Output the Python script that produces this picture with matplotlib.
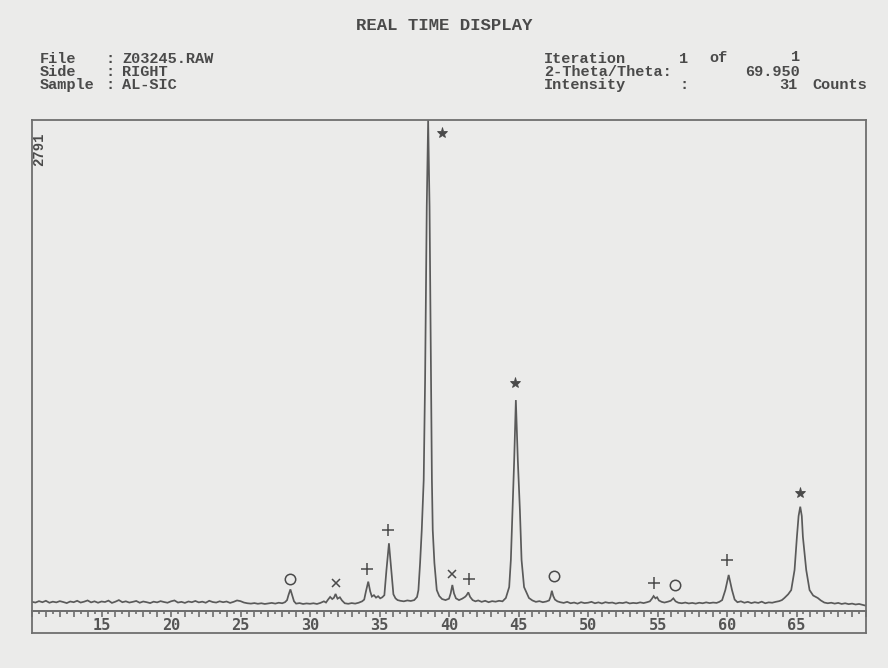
import matplotlib
matplotlib.use("Agg")
import matplotlib.pyplot as plt
from matplotlib.transforms import blended_transform_factory

# ---------------- data ----------------
two_theta = [
    10.00, 10.25, 10.50, 10.75, 11.00, 11.25, 11.50, 11.75, 12.00, 12.25,
    12.50, 12.75, 13.00, 13.25, 13.50, 13.75, 14.00, 14.25, 14.50, 14.75,
    15.00, 15.25, 15.50, 15.75, 16.00, 16.25, 16.50, 16.75, 17.00, 17.25,
    17.50, 17.75, 18.00, 18.25, 18.50, 18.75, 19.00, 19.25, 19.50, 19.75,
    20.00, 20.25, 20.50, 20.75, 21.00, 21.25, 21.50, 21.75, 22.00, 22.25,
    22.50, 22.75, 23.00, 23.25, 23.50, 23.75, 24.00, 24.25, 24.50, 24.75,
    25.00, 25.25, 25.50, 25.75, 26.00, 26.25, 26.50, 26.75, 27.00, 27.25,
    27.50, 27.75, 28.00,
    28.20, 28.35, 28.45, 28.59, 28.72, 28.85, 29.00, 29.25, 29.50, 29.75,
    30.00, 30.25, 30.50, 30.75, 31.00, 31.15, 31.30, 31.45, 31.60, 31.72,
    31.84, 31.98, 32.15, 32.30, 32.50, 32.75, 33.00, 33.25, 33.50, 33.75,
    33.90, 34.02, 34.19, 34.33, 34.45, 34.60, 34.75, 34.90, 35.05, 35.20,
    35.35, 35.50, 35.68, 35.85, 36.00, 36.15, 36.30, 36.50, 36.75, 37.00,
    37.25, 37.50, 37.70, 37.80, 37.92, 38.04, 38.18, 38.28, 38.40, 38.50,
    38.60, 38.71, 38.77, 38.83, 38.95, 39.12, 39.30, 39.50, 39.75, 40.00,
    40.12, 40.24, 40.36, 40.50, 40.72, 40.95, 41.15, 41.25, 41.39, 41.52,
    41.70, 41.90, 42.10, 42.35, 42.60, 42.85, 43.10, 43.35, 43.60, 43.85,
    44.09, 44.33, 44.45, 44.57, 44.69, 44.81, 44.95, 45.10, 45.22, 45.40,
    45.75, 46.00, 46.25, 46.50, 46.75, 47.00, 47.20, 47.30, 47.40, 47.50,
    47.62, 47.80, 48.00, 48.25, 48.50, 48.75, 49.00, 49.25, 49.50, 49.75,
    50.00, 50.25, 50.50, 50.75, 51.00, 51.25, 51.50, 51.75, 52.00, 52.25,
    52.50, 52.75, 53.00, 53.25, 53.50, 53.75, 54.00, 54.25, 54.45, 54.60,
    54.72, 54.85, 54.97, 55.10, 55.30, 55.50, 55.75, 55.95, 56.14, 56.30,
    56.50, 56.75, 57.00, 57.25, 57.50, 57.75, 58.00, 58.25, 58.50, 58.75,
    59.00, 59.25, 59.45, 59.65, 59.88, 60.12, 60.36, 60.55, 60.75, 61.00,
    61.25, 61.50, 61.75, 62.00, 62.25, 62.50, 62.75, 63.00, 63.25, 63.50,
    63.75, 63.95, 64.13, 64.40, 64.62, 64.86, 65.03, 65.15, 65.27, 65.38,
    65.46, 65.70, 65.94, 66.20, 66.53, 66.75, 67.00, 67.25, 67.50, 67.75,
    68.00, 68.25, 68.50, 68.75, 69.00, 69.25, 69.50, 69.75, 69.95,
]
counts = [
    52, 48, 56, 50, 58, 47, 53, 49, 56, 51,
    45, 54, 50, 58, 48, 53, 60, 49, 55, 47,
    54, 51, 59, 46, 53, 62, 50, 55, 48, 52,
    57, 47, 54, 50, 45, 53, 49, 56, 51, 47,
    55, 60, 48, 52, 46, 54, 50, 57, 49, 53,
    47, 58, 51, 48, 55, 50, 54, 46, 52, 60,
    56, 48, 44, 42, 45, 41, 44, 40, 43, 46,
    42, 47, 44,
    50, 62, 90, 123, 88, 55, 42, 45, 40, 43,
    41, 44, 40, 46, 55, 48, 65, 80, 68, 75,
    97, 70, 78, 60, 44, 41, 45, 42, 47, 55,
    65, 110, 167, 112, 82, 90, 76, 84, 72, 78,
    90, 233, 385, 233, 95, 72, 62, 58, 55, 60,
    57, 62, 80, 119, 273, 460, 745, 1313, 2300, 2791,
    2300, 1313, 745, 460, 273, 119, 85, 68, 62, 70,
    100, 148, 100, 72, 62, 70, 80, 88, 106, 80,
    62, 55, 60, 52, 58, 50, 56, 53, 58, 55,
    74, 136, 290, 574, 858, 1199, 858, 574, 290, 136,
    74, 60, 52, 56, 50, 54, 60, 80, 115, 85,
    65, 55, 50, 46, 52, 44, 48, 42, 50, 45,
    47, 52, 44, 49, 43, 50, 46, 48, 42, 47,
    45, 50, 43, 46, 44, 49, 45, 50, 55, 70,
    85, 72, 78, 60, 52, 48, 53, 58, 72, 55,
    47, 44, 48, 43, 46, 42, 47, 44, 49, 45,
    48, 46, 52, 62, 119, 205, 119, 65, 50, 55,
    47, 52, 45, 50, 46, 53, 44, 49, 47, 52,
    56, 62, 74, 95, 119, 233, 422, 540, 593, 540,
    422, 233, 119, 88, 74, 60, 48, 44, 47, 42,
    46, 40, 44, 39, 42, 37, 40, 35, 31,
]

# phase markers placed above the peaks
marker_2theta = [28.59, 31.84, 34.11, 35.63, 39.52, 40.19, 41.44, 44.74,
                 47.52, 54.72, 56.28, 60.00, 65.27]
marker_counts = [180, 157, 237, 460, 2719, 209, 180, 1294,
                 199, 157, 148, 290, 669]
marker_symbols = ['o', 'x', '+', '+', '*', 'x', '+', '*',
                  'o', '+', 'o', '+', '*']

tick_labels = [15, 20, 25, 30, 35, 40, 45, 50, 55, 60, 65]
x_range = (10, 70)
y_max = 2791

title = "REAL TIME DISPLAY"
header_left_keys = ["File", "Side", "Sample"]
header_left_vals = ["Z03245.RAW", "RIGHT", "AL-SIC"]
iteration = ("1", "of", "1")
two_theta_now = "69.950"
intensity_now = "31"

# ---------------- layout ----------------
W, H = 888, 668
PAPER = '#ebebea'
INK = '#4a4a4a'
LINE = '#6e6e6e'

fig = plt.figure(figsize=(W / 100, H / 100), dpi=100, facecolor=PAPER)

def fx(px):
    return px / W

def fy(py):
    return 1 - py / H

mono = ['Liberation Mono', 'DejaVu Sans Mono']
FS = 11

def put(px, py, s, ha='left', **kw):
    fig.text(fx(px), fy(py), s, ha=ha, va='center', fontsize=kw.pop('fs', FS),
             family=mono, color=INK, fontweight=kw.pop('fw', 'bold'), **kw)

# title + header
put(444, 26, title, ha='center', fs=12.5)
rows_y = [59, 72, 85]
for key, val, yy in zip(header_left_keys, header_left_vals, rows_y):
    put(40, yy, key)
    put(105, yy, ":")
    put(122, yy, val)

put(544, rows_y[0], "Iteration")
put(679, rows_y[0], iteration[0])
put(709, rows_y[0] - 1, iteration[1])
put(791, rows_y[0] - 2, iteration[2])
put(544, rows_y[1], "2-Theta/Theta:")
put(800, rows_y[1], two_theta_now, ha='right')
put(544, rows_y[2], "Intensity")
put(679, rows_y[2], ":")
put(798, rows_y[2], intensity_now, ha='right')
put(867, rows_y[2], "Counts", ha='right')

# main data panel
ax = fig.add_axes([fx(32), fy(611), (866 - 32) / W, (611 - 120) / H])
ax.set_facecolor('none')
ax.set_xlim(*x_range)
ax.set_ylim(0, y_max)
ax.plot(two_theta, counts, color='#5a5a5a', lw=1.25, solid_joinstyle='miter')
ax.set_xticks([])
ax.set_yticks([])
for s in ax.spines.values():
    s.set_color(LINE)
    s.set_linewidth(1.3)

style = {
    'o': dict(marker='o', ms=7.5, mfc='none', mec=INK, mew=1.1),
    'x': dict(marker='x', ms=6, mec=INK, mew=1.1),
    '+': dict(marker='+', ms=8.5, mec=INK, mew=1.1),
    '*': dict(marker='*', ms=8, mfc=INK, mec=INK, mew=0.6),
}
for xv, yv, sym in zip(marker_2theta, marker_counts, marker_symbols):
    ax.plot([xv], [yv], linestyle='none', clip_on=False, **style[sym])

ax.text(0.008, 0.975, str(y_max), transform=ax.transAxes, rotation=90,
        ha='center', va='top', fontsize=10, family=mono, color=INK,
        fontweight='bold')

# scale strip beneath the panel
strip = fig.add_axes([fx(32), fy(633), (866 - 32) / W, (633 - 611) / H])
strip.set_facecolor('none')
strip.set_xlim(*x_range)
strip.set_ylim(0, 1)
strip.set_xticks(list(range(x_range[0], x_range[1] + 1)))
strip.set_xticks([v + 0.5 for v in range(x_range[0], x_range[1])], minor=True)
strip.tick_params(axis='x', which='major', direction='in', top=True,
                  bottom=False, labelbottom=False, length=4.5, width=1.2,
                  color=LINE)
strip.tick_params(axis='x', which='minor', direction='in', top=True,
                  bottom=False, labelbottom=False, length=2.5, width=1.2,
                  color=LINE)
strip.set_yticks([])
for s in strip.spines.values():
    s.set_color(LINE)
    s.set_linewidth(1.3)
tr = blended_transform_factory(strip.transData, strip.transAxes)
for v in tick_labels:
    strip.text(v, 0.36, str(v), transform=tr, ha='center', va='center',
               fontsize=11, family=['DejaVu Sans Mono'], color='#555555',
               fontweight='bold')

fig.savefig('out.png', dpi=100, facecolor=PAPER)
